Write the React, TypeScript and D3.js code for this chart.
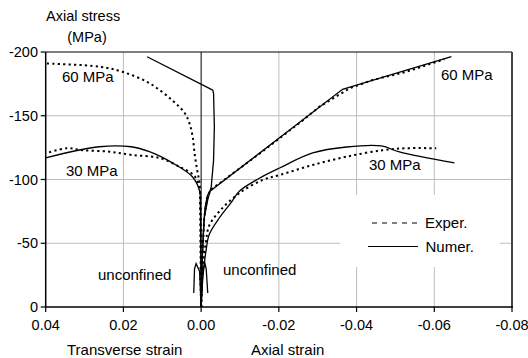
import React from "react";
import * as d3 from "d3";

type P = [number, number];

const xTicks = [0.04, 0.02, 0.0, -0.02, -0.04, -0.06, -0.08];
const xTickLabels = ["0.04", "0.02", "0.00", "-0.02", "-0.04", "-0.06", "-0.08"];
const yTicks = [0, -50, -100, -150, -200];
const yTickLabels = ["0", "-50", "-100", "-150", "-200"];

// Numerical (solid)
const num60Axial: P[] = [[0, 0], [-0.0002, -30], [-0.0006, -60], [-0.001, -78], [-0.0016, -87], [-0.0021, -90.4], [-0.0364, -170.7], [-0.04, -174], [-0.0644, -196.3]];
const num60Trans: P[] = [[0, 0], [-0.0003, -40], [-0.0008, -70], [-0.0017, -84], [-0.0026, -94.4], [-0.0032, -115], [-0.0034, -141.4], [-0.0032, -167.6], [-0.003, -170], [-0.0021, -171.5], [0.0139, -196.3]];
const num30Axial: P[] = [[0, 0], [-0.0005, -25], [-0.0013, -45], [-0.0021, -57], [-0.0047, -70], [-0.0075, -81], [-0.0099, -91], [-0.015, -101], [-0.0202, -109], [-0.0287, -120.8], [-0.0374, -125.5], [-0.0464, -126.3], [-0.051, -121.6], [-0.0652, -113]];
const num30Trans: P[] = [[0, 0], [0.0001, -40], [0.0002, -80], [0.0004, -91], [0.0022, -102], [0.0074, -113], [0.0133, -121.8], [0.018, -125.7], [0.0262, -125.7], [0.04, -117]];
const numUncTrans: P[] = [[0, 0], [0.0004, -28], [0.0013, -34], [0.0017, -30], [0.0019, -11]];
const numUncAxial: P[] = [[0, 0], [-0.0004, -28], [-0.001, -34], [-0.0013, -30], [-0.0017, -11]];

// Experimental (dotted)
const exp60Axial: P[] = [[0, 0], [-0.0003, -37], [-0.0008, -70], [-0.0015, -85], [-0.0025, -92], [-0.0158, -122], [-0.026, -146], [-0.0304, -157], [-0.0347, -165], [-0.0382, -171.5], [-0.0441, -178], [-0.0528, -184.5], [-0.0626, -194.3]];
const exp60Trans: P[] = [[0, 0], [0.0001, -40], [0.0002, -75], [0.0004, -97], [0.001, -107], [0.0017, -121], [0.0022, -134], [0.003, -144], [0.0042, -152], [0.0074, -162], [0.0133, -175.5], [0.0203, -184.5], [0.0262, -188.5], [0.04, -191]];
const exp30Axial: P[] = [[0, 0], [-0.0004, -30], [-0.0012, -50], [-0.0021, -64], [-0.005, -76], [-0.0099, -89.4], [-0.0158, -99.6], [-0.0202, -103.5], [-0.0287, -111.4], [-0.0374, -117.9], [-0.0467, -123], [-0.0528, -124.5], [-0.0605, -124.5]];
const exp30Trans: P[] = [[0, 0], [0.0001, -40], [0.0002, -80], [0.0004, -92], [0.0017, -102.7], [0.0056, -110], [0.0107, -116.9], [0.0177, -119.2], [0.0236, -121.8], [0.0305, -123], [0.0347, -124.5], [0.0399, -120.5]];
const expUnc: P[] = [[0, 0], [0.0002, -25], [-0.0002, -45], [0.0001, -60]];

const numStraight = [num60Axial, num60Trans, numUncTrans, numUncAxial];
const numSmooth = [num30Axial, num30Trans];
const expStraight = [exp60Axial, expUnc];
const expSmooth = [exp60Trans, exp30Axial, exp30Trans];

const FONT = "'Liberation Sans', Arial, Helvetica, sans-serif";

export default function App() {
  const W = 528, H = 358;
  const x = d3.scaleLinear().domain([0.04, -0.08]).range([45.7, 512]);
  const y = d3.scaleLinear().domain([0, -200]).range([307, 52]);
  const lineS = d3.line<P>().x((d) => x(d[0])).y((d) => y(d[1])).curve(d3.curveCatmullRom.alpha(0.5));
  const lineL = d3.line<P>().x((d) => x(d[0])).y((d) => y(d[1]));
  const left = x(0.04), right = x(-0.08), top = y(-200), bottom = y(0);

  const dash = "2.2,3.2";

  return (
    <svg width={W} height={H} style={{ position: "absolute", left: 0, top: 0, background: "#fff" }} fontFamily={FONT}>
      <rect x={0} y={0} width={W} height={H} fill="#fff" />
      {/* gridlines */}
      {xTicks.filter((t) => t !== 0.04 && t !== -0.08 && t !== 0).map((t) => (
        <line key={"gx" + t} x1={x(t)} x2={x(t)} y1={top} y2={bottom} stroke="#bdbdbd" strokeWidth={1} />
      ))}
      {yTicks.filter((t) => t !== 0 && t !== -200).map((t) => (
        <line key={"gy" + t} x1={left} x2={right} y1={y(t)} y2={y(t)} stroke="#bdbdbd" strokeWidth={1} />
      ))}
      {/* legend background */}
      <rect x={340} y={195} width={160} height={72} fill="#fff" />
      {/* zero line */}
      <line x1={x(0)} x2={x(0)} y1={top} y2={bottom} stroke="#000" strokeWidth={1} />
      {/* frame */}
      <line x1={left} x2={right} y1={top} y2={top} stroke="#000" strokeWidth={1.2} />
      <line x1={right} x2={right} y1={top} y2={bottom} stroke="#444" strokeWidth={2} />
      <line x1={left} x2={left} y1={top} y2={bottom} stroke="#000" strokeWidth={1.5} />
      <line x1={left} x2={right + 1} y1={bottom} y2={bottom} stroke="#000" strokeWidth={1.5} />
      {/* ticks */}
      {xTicks.map((t, i) => (
        <g key={"tx" + i}>
          <line x1={x(t)} x2={x(t)} y1={bottom} y2={bottom + 5} stroke="#000" strokeWidth={1.2} />
          <text x={x(t)} y={330} textAnchor="middle" fontSize={14.5}>{xTickLabels[i]}</text>
        </g>
      ))}
      {yTicks.map((t, i) => (
        <g key={"ty" + i}>
          <line x1={left - 5} x2={left} y1={y(t)} y2={y(t)} stroke="#000" strokeWidth={1.2} />
          <text x={38} y={y(t) + 5} textAnchor="end" fontSize={14.5}>{yTickLabels[i]}</text>
        </g>
      ))}
      {/* curves */}
      {expStraight.map((s, i) => (
        <path key={"el" + i} d={lineL(s) || ""} fill="none" stroke="#000" strokeWidth={2} strokeDasharray={dash} />
      ))}
      {expSmooth.map((s, i) => (
        <path key={"es" + i} d={lineS(s) || ""} fill="none" stroke="#000" strokeWidth={2} strokeDasharray={dash} />
      ))}
      {numStraight.map((s, i) => (
        <path key={"nl" + i} d={lineL(s) || ""} fill="none" stroke="#000" strokeWidth={1.3} />
      ))}
      {numSmooth.map((s, i) => (
        <path key={"ns" + i} d={lineS(s) || ""} fill="none" stroke="#000" strokeWidth={1.3} />
      ))}
      {/* labels */}
      <text x={46} y={21} fontSize={14.5}>Axial stress</text>
      <text x={87} y={42} fontSize={14.5} textAnchor="middle">(MPa)</text>
      <text x={67} y={355} fontSize={15}>Transverse strain</text>
      <text x={251} y={355} fontSize={15}>Axial strain</text>
      <text x={62} y={81.5} fontSize={15}>60 MPa</text>
      <text x={441} y={79.5} fontSize={15}>60 MPa</text>
      <text x={66} y={176} fontSize={15}>30 MPa</text>
      <text x={369} y={170} fontSize={15}>30 MPa</text>
      <text x={98} y={280} fontSize={15}>unconfined</text>
      <text x={223} y={275} fontSize={15}>unconfined</text>
      {/* legend */}
      <line x1={372} x2={420} y1={223} y2={223} stroke="#000" strokeWidth={1} strokeDasharray="5,5" />
      <text x={425} y={228} fontSize={15}>Exper.</text>
      <line x1={368} x2={418} y1={246.5} y2={246.5} stroke="#000" strokeWidth={1.2} />
      <text x={425.5} y={251.5} fontSize={15}>Numer.</text>
    </svg>
  );
}
